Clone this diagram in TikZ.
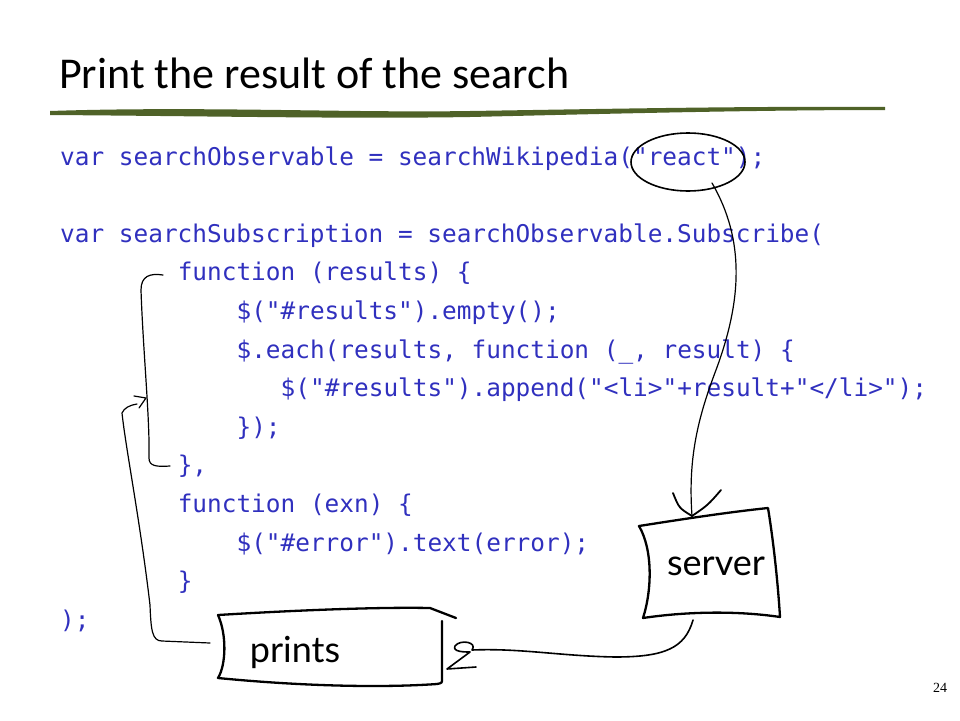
\documentclass[tikz,border=0pt]{standalone}
\usepackage{fontspec}
\setmainfont{Carlito}
\setmonofont{DejaVu Sans Mono}
\newfontfamily\handfont{Lato}
\newfontfamily\numfont{Liberation Serif}
\usetikzlibrary{shapes.geometric}
\definecolor{codeblue}{RGB}{48,48,190}
\definecolor{titlegreen}{RGB}{79,98,40}
\tikzset{
  code/.style={anchor=base west, inner sep=0pt, text=codeblue, font=\ttfamily\fontsize{24.4}{28}\selectfont},
  hand/.style={black, line width=2.3pt, line cap=round, line join=round},
  pen/.style={black, line width=1.2pt, line cap=round, line join=round},
  handtext/.style={inner sep=0pt, font=\handfont\fontsize{36}{40}\selectfont}
}
\begin{document}
\begin{tikzpicture}[x=1pt,y=-1pt]
\useasboundingbox (0,0) rectangle (960,720);

% title and brush line
\node[anchor=base west, inner sep=0pt, font=\fontsize{44}{48}\selectfont] (title) at (59,88) {Print the result of the search};
\fill[titlegreen] (50,111) .. controls (200,106) and (350,113) .. (470,111) .. controls (600,109) and (750,106) .. (885,107)
  -- (885,110) .. controls (750,110) and (600,114) .. (470,117) .. controls (350,119) and (200,116) .. (50,115) -- cycle;

% code lines
\node[code] (c1) at (60,165) {var searchObservable = searchWikipedia("react");};
\node[code] (c3) at (60,242.2) {var searchSubscription = searchObservable.Subscribe(};
\node[code] (c4) at (177.6,280.8) {function (results) \{};
\node[code] (c5) at (236.4,319.4) {\$("\#results").empty();};
\node[code] (c6) at (236.4,358) {\$.each(results, function (\_, result) \{};
\node[code] (c7) at (280.5,396.6) {\$("\#results").append("<li>"+result+"</li>");};
\node[code] (c8) at (236.4,435.2) {\});};
\node[code] (c9) at (177.6,473.8) {\},};
\node[code] (c10) at (177.6,512.4) {function (exn) \{};
\node[code] (c11) at (236.4,551) {\$("\#error").text(error);};
\node[code] (c12) at (177.6,589.6) {\}};
\node[code] (c13) at (60,628.2) {);};

% hand drawn boxes
\node[handtext] (server) at (716,566) {server};
\node[handtext] (prints) at (295,652) {prints};
\draw[hand] (639,526) .. controls (690,518) and (730,512) .. (768,508) .. controls (774,545) and (778,585) .. (780,617)
  .. controls (740,611) and (690,611) .. (643,618) .. controls (652,590) and (653,550) .. (639,526) -- cycle;
\draw[hand] (218,615) .. controls (300,610) and (380,607) .. (430,608) -- (456,618);
\draw[hand] (442,621) -- (442,679) .. controls (442,683) .. (437,684) .. controls (380,688) and (300,686) .. (218,678)
  .. controls (226,665) and (227,635) .. (218,615);

% circled argument
\node[draw, ellipse, line width=1.6pt, minimum width=114pt, minimum height=58pt, inner sep=0pt] (react) at (688,162) {};

% connectors
\coordinate (reacttail) at (712,183);
\coordinate (srvtip) at (692,516);
\coordinate (srvfoot) at (693,620);
\coordinate (prtip) at (447,669);
\coordinate (prleft) at (210,643);
\draw[pen] (reacttail) .. controls (745,240) and (742,300) .. (716,370) .. controls (697,420) and (688,460) .. (srvtip);
\draw[pen, line width=1.8pt] (673,493) .. controls (679,508) .. (srvtip) .. controls (708,505) .. (721,490);
\draw[pen, line width=1.6pt] (srvfoot) .. controls (685,648) and (665,657) .. (615,657) .. controls (560,656) and (520,648) .. (472,650)
  .. controls (478,642) and (460,639) .. (455,646) .. controls (452,652) and (465,652) .. (470,652) -- (prtip) -- (476,667);
\draw[pen] (prleft) -- (162,641) .. controls (152,641) and (151,630) .. (150,605) .. controls (140,520) and (126,450) .. (122,413)
  .. controls (124,408) and (130,405) .. (137,404);
\draw[pen] (134,396) -- (146,398) -- (139,408);
\draw[pen] (163,275) .. controls (150,273) and (141,276) .. (141,290) .. controls (143,350) and (150,420) .. (149,458)
  .. controls (149,466) and (156,467) .. (170,466);

% slide number
\node[inner sep=0pt, font=\numfont\fontsize{14}{16}\selectfont] (num) at (940,688) {24};
\end{tikzpicture}
\end{document}
